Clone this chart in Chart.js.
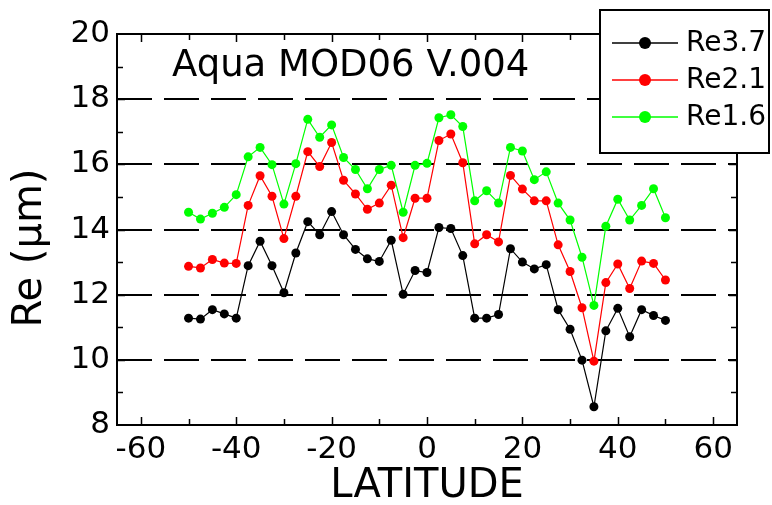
<!DOCTYPE html>
<html>
<head>
<meta charset="utf-8">
<script src="https://cdn.jsdelivr.net/npm/chart.js@4.4.1/dist/chart.umd.min.js"></script>
<style>
    html, body { margin: 0; padding: 0; background: #fff; }
    #wrap { position: relative; width: 772px; height: 505px; }
</style>
</head>
<body>
<div id="wrap"><canvas id="reChart" width="772" height="505"></canvas></div>
<script>
// latitude bins (deg)
const latitudes = [-50, -47.5, -45, -42.5, -40, -37.5, -35, -32.5, -30, -27.5,
    -25, -22.5, -20, -17.5, -15, -12.5, -10, -7.5, -5, -2.5,
    0, 2.5, 5, 7.5, 10, 12.5, 15, 17.5, 20, 22.5,
    25, 27.5, 30, 32.5, 35, 37.5, 40, 42.5, 45, 47.5, 50];

const re37 = [11.28, 11.25, 11.54, 11.41, 11.28, 12.89, 13.64, 12.89, 12.06, 13.28,
    14.24, 13.84, 14.55, 13.84, 13.39, 13.10, 13.02, 13.67, 12.01, 12.74,
    12.68, 14.06, 14.03, 13.20, 11.28, 11.28, 11.39, 13.41, 13.00, 12.79,
    12.92, 11.54, 10.94, 9.99, 8.56, 10.89, 11.58, 10.71, 11.54, 11.36, 11.21];

const re21 = [12.87, 12.82, 13.08, 12.97, 12.96, 14.74, 15.65, 15.02, 13.72, 15.02,
    16.39, 15.93, 16.67, 15.51, 15.09, 14.62, 14.81, 15.36, 13.75, 14.96,
    14.96, 16.73, 16.93, 16.05, 13.56, 13.84, 13.62, 15.66, 15.24, 14.88,
    14.88, 13.53, 12.71, 11.60, 9.96, 12.37, 12.94, 12.19, 13.03, 12.96, 12.45];

const re16 = [14.53, 14.32, 14.50, 14.68, 15.07, 16.23, 16.52, 15.99, 14.78, 16.02,
    17.38, 16.83, 17.21, 16.21, 15.84, 15.25, 15.84, 15.97, 14.53, 15.97,
    16.03, 17.43, 17.52, 17.16, 14.88, 15.19, 14.81, 16.52, 16.41, 15.53,
    15.77, 14.81, 14.29, 13.15, 11.67, 14.10, 14.93, 14.29, 14.74, 15.25, 14.36];

const seriesNames = ['Re3.7', 'Re2.1', 'Re1.6'];
const seriesColors = ['#000000', '#ff0000', '#00ff00'];
const xTickValues = [-60, -40, -20, 0, 20, 40, 60];
const yTickValues = [8, 10, 12, 14, 16, 18, 20];
const chartTitle = 'Aqua MOD06 V.004';
const yTitle = 'Re (\u00b5m)';

const FONT = '"DejaVu Sans", Verdana, sans-serif';

function toPoints(values) {
    return latitudes.map((lat, i) => ({ x: lat, y: values[i] }));
}

// frame, inward ticks, titles and legend box
const framePlugin = {
    id: 'frame',
    afterDraw(chart) {
        const ctx = chart.ctx;
        const area = chart.chartArea;
        const xs = chart.scales.x;
        const ys = chart.scales.y;
        ctx.save();
        ctx.strokeStyle = '#000';
        ctx.lineWidth = 2;
        ctx.setLineDash([]);
        ctx.strokeRect(area.left, area.top, area.right - area.left, area.bottom - area.top);

        ctx.lineWidth = 1.5;
        ctx.beginPath();
        for (let v = -60; v <= 60; v += 10) {
            const px = Math.round(xs.getPixelForValue(v)) + 0.5;
            const len = v % 20 === 0 ? 8 : 6;
            ctx.moveTo(px, area.bottom); ctx.lineTo(px, area.bottom - len);
            ctx.moveTo(px, area.top); ctx.lineTo(px, area.top + len);
        }
        for (let v = 9; v < 20; v += 1) {
            const py = Math.round(ys.getPixelForValue(v)) + 0.5;
            const len = v % 2 === 0 ? 8 : 6;
            ctx.moveTo(area.left, py); ctx.lineTo(area.left + len, py);
            ctx.moveTo(area.right, py); ctx.lineTo(area.right - len, py);
        }
        ctx.stroke();

        ctx.fillStyle = '#000';

        // y axis title
        ctx.save();
        ctx.translate(31, 248);
        ctx.rotate(-Math.PI / 2);
        ctx.font = '40px ' + FONT;
        ctx.textAlign = 'center';
        ctx.textBaseline = 'middle';
        ctx.fillText(yTitle, 0, 0);
        ctx.restore();

        // title inside the plot
        ctx.font = '37px ' + FONT;
        ctx.textAlign = 'left';
        ctx.textBaseline = 'alphabetic';
        ctx.fillText(chartTitle, 172, 76);

        // legend box
        const bx = 600, by = 10, bw = 169, bh = 143;
        ctx.fillStyle = '#fff';
        ctx.fillRect(bx, by, bw, bh);
        ctx.lineWidth = 2;
        ctx.strokeRect(bx, by, bw, bh);
        ctx.font = '28px ' + FONT;
        ctx.textBaseline = 'middle';
        chart.data.datasets.forEach((ds, i) => {
            const y = 43 + i * 37;
            ctx.strokeStyle = ds.borderColor;
            ctx.lineWidth = 1.5;
            ctx.beginPath();
            ctx.moveTo(612, y); ctx.lineTo(678, y);
            ctx.stroke();
            ctx.fillStyle = ds.backgroundColor;
            ctx.beginPath();
            ctx.arc(645, y, 6, 0, Math.PI * 2);
            ctx.fill();
            ctx.fillStyle = '#000';
            ctx.fillText(ds.label, 686, y + 1);
        });
        ctx.restore();
    }
};

const ctx = document.getElementById('reChart').getContext('2d');
new Chart(ctx, {
    type: 'line',
    data: {
        datasets: [re37, re21, re16].map((vals, i) => ({
            label: seriesNames[i],
            data: toPoints(vals),
            borderColor: seriesColors[i],
            backgroundColor: seriesColors[i],
            borderWidth: 1.2,
            pointRadius: 4.5,
            pointBorderWidth: 0,
            tension: 0,
            fill: false
        }))
    },
    options: {
        responsive: false,
        animation: false,
        layout: { padding: { top: 34, right: 35, left: 0, bottom: 0 } },
        plugins: {
            legend: { display: false },
            tooltip: { enabled: false }
        },
        scales: {
            x: {
                type: 'linear',
                min: -65,
                max: 65,
                afterBuildTicks: (scale) => { scale.ticks = xTickValues.map(v => ({ value: v })); },
                afterFit: (scale) => { scale.height = 80; },
                grid: { display: false, drawTicks: false },
                border: { display: false },
                ticks: {
                    color: '#000',
                    padding: 6,
                    maxRotation: 0,
                    font: { family: FONT, size: 31 }
                },
                title: {
                    display: true,
                    text: 'LATITUDE',
                    color: '#000',
                    padding: { top: 0, bottom: -6 },
                    font: { family: FONT, size: 40 }
                }
            },
            y: {
                min: 8,
                max: 20,
                afterBuildTicks: (scale) => { scale.ticks = yTickValues.map(v => ({ value: v })); },
                afterFit: (scale) => { scale.width = 117; },
                grid: {
                    drawTicks: false,
                    lineWidth: 2,
                    color: (c) => (c.tick && (c.tick.value === 8 || c.tick.value === 20)) ? 'rgba(0,0,0,0)' : '#000'
                },
                border: { display: false, dash: [35, 12] },
                ticks: {
                    color: '#000',
                    padding: 7,
                    font: { family: FONT, size: 31 }
                },
                title: { display: false }
            }
        }
    },
    plugins: [framePlugin]
});
</script>
</body>
</html>
